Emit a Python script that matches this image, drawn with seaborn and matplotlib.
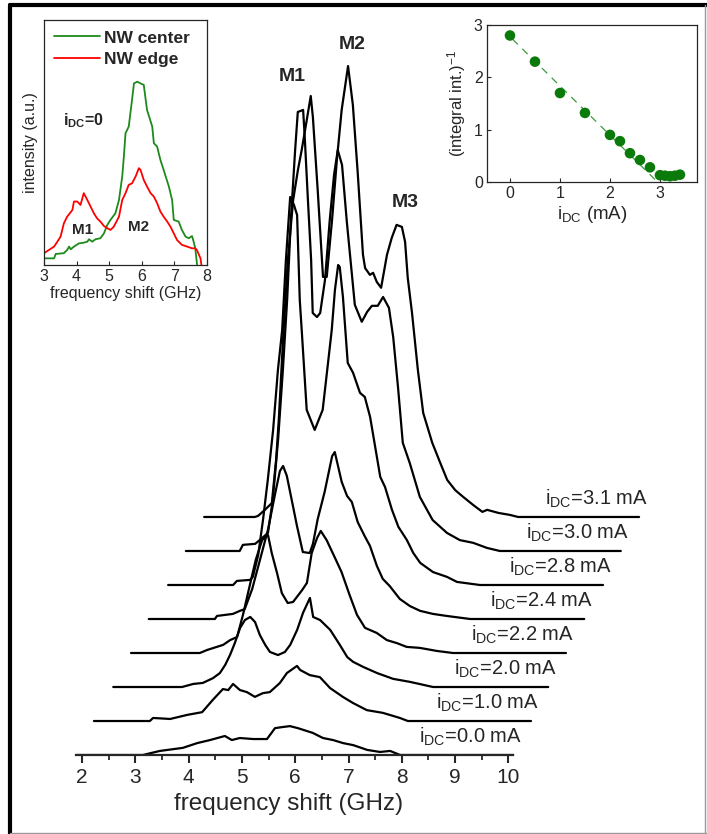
import numpy as np
import pandas as pd
import matplotlib
matplotlib.use("Agg")
import matplotlib.pyplot as plt
import seaborn as sns
from matplotlib.lines import Line2D

# BLS spectra for each i_DC, each in its own frequency frame (GHz), intensity in a.u.
currents = ["0.0", "1.0", "2.0", "2.2", "2.4", "2.8", "3.0", "3.1"]

f_00 = [1.89, 3.14, 3.46, 3.89, 4.16, 4.40, 4.68, 4.81, 4.96, 5.21, 5.47, 5.62, 5.75,
        5.90, 6.05, 6.33, 6.52, 6.71, 6.90, 7.09, 7.35, 7.59, 7.78, 7.97, 10.09]
I_00 = [0, 0, 0.12, 0.21, 0.35, 0.44, 0.56, 0.44, 0.50, 0.47, 0.47, 0.79, 0.82,
        0.85, 0.79, 0.65, 0.50, 0.44, 0.35, 0.29, 0.15, 0.09, 0.12, 0, 0]

f_10 = [1.88, 2.93, 2.99, 3.31, 3.63, 3.91, 4.11, 4.30, 4.40, 4.49, 4.62, 4.75, 4.90, 5.05,
        5.18, 5.37, 5.50, 5.69, 5.75, 5.93, 6.12, 6.31, 6.55, 6.74, 7.00, 7.30, 7.62, 7.77, 10.08]
I_10 = [0, 0, 0.09, 0.06, 0.18, 0.26, 0.62, 0.94, 0.91, 1.09, 0.91, 0.85, 0.71, 0.82,
        0.85, 1.12, 1.41, 1.62, 1.50, 1.35, 1.29, 0.97, 0.71, 0.53, 0.32, 0.24, 0.09, 0, 0]

f_20 = [1.90, 3.19, 3.40, 3.58, 3.77, 3.90, 4.00, 4.09, 4.18, 4.28, 4.37, 4.47, 4.56, 4.65,
        4.75, 4.84, 4.99, 5.12, 5.22, 5.35, 5.46, 5.59, 5.65, 5.78, 5.97, 6.15, 6.29, 6.40,
        6.59, 6.85, 7.15, 7.47, 7.90, 10.06]
I_20 = [0, 0, 0.09, 0.12, 0.26, 0.41, 0.65, 0.94, 1.29, 1.74, 1.97, 2.06, 1.91, 1.53,
        1.24, 1.03, 0.94, 1.03, 1.24, 1.68, 2.18, 2.62, 2.06, 1.97, 1.68, 1.24, 0.88, 0.74,
        0.59, 0.41, 0.24, 0.15, 0, 0]

f_22 = [1.89, 3.18, 3.32, 3.50, 3.62, 3.75, 3.88, 3.99, 4.12, 4.23, 4.35, 4.46, 4.53, 4.63,
        4.72, 4.83, 4.93, 5.10, 5.19, 5.28, 5.38, 5.45, 5.56, 5.71, 5.84, 5.99, 6.13, 6.28,
        6.50, 6.69, 6.88, 7.06, 7.31, 7.63, 7.93, 10.05]
I_22 = [0, 0, 0.09, 0.18, 0.24, 0.38, 0.47, 1.12, 2.00, 2.74, 3.32, 3.47, 2.94, 2.35,
        1.76, 1.47, 1.50, 1.85, 2.06, 2.94, 3.38, 3.59, 3.32, 2.82, 2.38, 1.71, 1.12, 0.74,
        0.59, 0.38, 0.29, 0.18, 0.15, 0.06, 0, 0]

f_24 = [1.88, 3.12, 3.16, 3.46, 3.59, 3.68, 3.82, 3.97, 4.12, 4.25, 4.34, 4.40, 4.47, 4.57,
        4.66, 4.77, 4.90, 4.96, 5.05, 5.18, 5.32, 5.37, 5.50, 5.60, 5.69, 5.80, 5.93, 6.03,
        6.16, 6.27, 6.40, 6.59, 6.78, 6.97, 7.21, 7.47, 7.91, 10.05]
I_24 = [0, 0, 0.09, 0.15, 0.24, 0.29, 0.88, 1.76, 2.65, 3.68, 4.35, 4.50, 4.21, 3.44,
        2.74, 1.97, 1.94, 2.21, 2.94, 3.74, 4.79, 4.91, 4.03, 3.62, 3.44, 2.85, 2.44, 2.15,
        1.56, 1.18, 0.97, 0.59, 0.38, 0.24, 0.15, 0.09, 0, 0]

f_28 = [1.90, 3.12, 3.19, 3.44, 3.49, 3.59, 3.68, 3.77, 3.87, 3.96, 4.04, 4.11, 4.19, 4.26,
        4.32, 4.37, 4.41, 4.50, 4.65, 4.80, 4.90, 4.97, 5.03, 5.09, 5.12, 5.18, 5.27, 5.37,
        5.50, 5.59, 5.69, 5.88, 5.97, 6.10, 6.22, 6.38, 6.50, 6.63, 6.87, 7.13, 7.32, 7.75, 10.06]
I_28 = [0, 0, 0.12, 0.15, 0.24, 0.88, 1.91, 3.09, 4.56, 6.32, 7.50, 9.56, 11.41, 11.18,
        10.88, 8.38, 7.41, 5.15, 4.56, 5.15, 6.53, 7.50, 8.68, 9.41, 9.35, 8.47, 6.53, 6.24,
        5.65, 5.53, 4.94, 3.18, 2.88, 2.21, 1.71, 1.32, 0.94, 0.65, 0.38, 0.24, 0.09, 0, 0]

f_30 = [1.89, 2.90, 2.96, 3.19, 3.32, 3.43, 3.52, 3.62, 3.71, 3.79, 3.86, 3.94, 3.99, 4.09,
        4.12, 4.18, 4.24, 4.27, 4.35, 4.41, 4.50, 4.59, 4.67, 4.74, 4.82, 4.91, 5.06, 5.19,
        5.29, 5.38, 5.49, 5.59, 5.70, 5.78, 5.87, 5.96, 6.09, 6.28, 6.52, 6.79, 7.03, 7.28,
        7.54, 7.78, 10.05]
I_30 = [0, 0, 0.18, 0.21, 0.38, 0.53, 1.50, 3.26, 5.32, 7.38, 9.74, 11.79, 12.91, 12.97,
        12.18, 10.32, 8.56, 7.00, 6.88, 7.00, 7.97, 9.74, 11.06, 11.79, 11.35, 9.68, 7.24, 6.74,
        7.03, 7.21, 7.21, 7.47, 7.15, 6.29, 4.82, 3.18, 2.59, 1.59, 0.91, 0.53, 0.32, 0.24,
        0.09, 0, 0]

f_31 = [1.89, 2.84, 2.90, 3.03, 3.16, 3.24, 3.29, 3.37, 3.46, 3.56, 3.65, 3.72, 3.80, 3.89,
        3.93, 4.02, 4.12, 4.19, 4.29, 4.38, 4.47, 4.59, 4.68, 4.77, 4.87, 4.91, 5.00, 5.06,
        5.13, 5.21, 5.32, 5.41, 5.50, 5.60, 5.66, 5.71, 5.79, 5.90, 6.00, 6.17, 6.32, 6.45,
        6.60, 6.75, 6.94, 7.11, 7.20, 7.41, 7.63, 7.78, 10.05]
I_31 = [0, 0, 0.03, 0.21, 0.41, 1.68, 2.85, 5.21, 7.56, 9.32, 10.21, 10.79, 11.53, 12.38,
        11.76, 9.62, 7.06, 7.06, 8.74, 10.50, 11.97, 13.26, 12.12, 10.15, 7.71, 7.32, 7.12, 7.18,
        6.91, 6.74, 7.71, 8.21, 8.59, 8.53, 8.09, 7.03, 6.00, 4.32, 3.06, 2.18, 1.59, 1.09,
        0.79, 0.59, 0.35, 0.15, 0.21, 0.12, 0.06, 0, 0]

freqs = [f_00, f_10, f_20, f_22, f_24, f_28, f_30, f_31]
ints = [I_00, I_10, I_20, I_22, I_24, I_28, I_30, I_31]

# inset: i_DC = 0 spectra at NW center / edge
fc = [3.00, 3.31, 3.36, 3.61, 3.71, 3.77, 3.82, 3.92, 4.07, 4.22, 4.33, 4.38, 4.48, 4.58,
      4.73, 4.84, 4.94, 5.04, 5.19, 5.30, 5.40, 5.45, 5.50, 5.60, 5.70, 5.76, 5.86, 5.96,
      6.06, 6.16, 6.32, 6.37, 6.47, 6.57, 6.67, 6.83, 6.93, 6.98, 7.13, 7.23, 7.34, 7.44,
      7.54, 7.59, 7.64, 7.72]
Ic = [2.7, 2.7, 4.5, 4.8, 6.1, 7.5, 6.4, 7.5, 8.8, 9.1, 9.5, 10.5, 9.5, 10.5,
      10.9, 12.9, 16.3, 18.4, 21.1, 26.5, 36.1, 44.2, 53.7, 56.5, 67.3, 74.1, 74.8, 74.1,
      73.5, 63.3, 56.5, 49.7, 48.3, 42.9, 38.8, 32.0, 26.5, 18.4, 17.7, 14.3, 11.6, 10.9,
      11.8, 9.5, 6.8, -3]
fe = [3.00, 3.15, 3.31, 3.41, 3.51, 3.61, 3.71, 3.87, 3.92, 4.02, 4.12, 4.22, 4.33, 4.43,
      4.53, 4.63, 4.73, 4.84, 4.94, 5.04, 5.14, 5.30, 5.40, 5.50, 5.60, 5.70, 5.81, 5.91,
      5.96, 6.06, 6.16, 6.27, 6.37, 6.47, 6.57, 6.67, 6.78, 6.88, 6.98, 7.08, 7.23, 7.39,
      7.54, 7.64, 7.69, 7.80, 7.86]
Ie = [4.8, 6.1, 7.5, 9.5, 11.6, 17.0, 19.7, 22.4, 25.9, 25.9, 24.5, 29.3, 26.5, 23.8,
      21.1, 19.0, 17.7, 15.9, 15.0, 14.3, 15.6, 19.7, 26.5, 29.3, 32.7, 33.3, 36.1, 39.5,
      38.8, 34.7, 32.0, 29.3, 27.9, 25.2, 21.8, 19.7, 17.7, 15.6, 12.9, 10.2, 8.2, 7.5,
      6.8, 6.8, 6.1, 2.7, -3]

# inset: inverse integral intensity vs i_DC
idc = [0.0, 0.5, 1.0, 1.5, 2.0, 2.2, 2.4, 2.6, 2.8, 3.0, 3.1, 3.2, 3.3, 3.4]
inv_int = [2.80, 2.30, 1.70, 1.32, 0.90, 0.78, 0.55, 0.42, 0.28, 0.13, 0.12, 0.11, 0.12, 0.14]
fit_x = [0.05, 2.95]
fit_y = [2.73, 0.0]

dx, dy = 0.343, 1.0   # waterfall shift per trace

sns.set_style("ticks")
plt.rcParams["font.family"] = ["Liberation Sans", "DejaVu Sans"]
plt.rcParams["mathtext.default"] = "regular"

fig = plt.figure(figsize=(7.07, 8.34), dpi=100)

# main waterfall
ax = fig.add_axes([0.0849, 0.0947, 0.877, 0.8693])
for k, (f, I) in enumerate(zip(freqs, ints)):
    sns.lineplot(x=np.array(f) + k * dx, y=np.array(I) + k * dy, ax=ax, color="black",
                 lw=1.6, estimator=None, sort=False)
    ax.text(f[-1] + k * dx + 0.16, k * dy + 0.36, "i$_{DC}$=" + currents[k] + " mA",
            ha="right", va="baseline", fontsize=14.5)

ax.text(5.94, 19.94, "M1", fontsize=14, fontweight="bold", ha="center", va="center")
ax.text(7.07, 20.88, "M2", fontsize=14, fontweight="bold", ha="center", va="center")
ax.text(8.06, 16.24, "M3", fontsize=14, fontweight="bold", ha="center", va="center")

ax.set_xlim(1.587, 13.22)
ax.set_ylim(0, 21.32)
for s in ["left", "right", "top"]:
    ax.spines[s].set_visible(False)
ax.spines["bottom"].set_bounds(1.89, 10.09)
ax.spines["bottom"].set_linewidth(1.6)
ax.set_yticks([])
ax.set_xticks(range(2, 11))
ax.set_xticks(np.arange(2.5, 10, 1.0), minor=True)
ax.tick_params(axis="x", which="major", length=6, width=1.5, labelsize=15, direction="out", pad=3)
ax.tick_params(axis="x", which="minor", length=3.5, width=1.3, direction="out")
ax.set_xlabel("frequency shift (GHz)", fontsize=17.5)
ax.xaxis.set_label_coords(0.368, -0.052)
ax.patch.set_alpha(0)

# left inset
ax1 = fig.add_axes([0.0622, 0.6823, 0.2306, 0.2938])
sns.lineplot(x=fc, y=Ic, ax=ax1, color="#1d8a1d", lw=1.3, estimator=None, sort=False,
             label="NW center")
sns.lineplot(x=fe, y=Ie, ax=ax1, color="#ff0000", lw=1.3, estimator=None, sort=False,
             label="NW edge")
ax1.set_xlim(3, 8)
ax1.set_ylim(0, 100)
ax1.set_yticks([])
ax1.set_xticks(range(3, 9))
ax1.tick_params(axis="x", direction="in", length=3, labelsize=11.5, pad=3)
ax1.set_xlabel("frequency shift (GHz)", fontsize=11.5, labelpad=1)
ax1.set_ylabel("intensity (a.u.)", fontsize=11.5, labelpad=4)
ax1.legend(loc="upper left", frameon=False, prop={"weight": "bold", "size": 12.5},
           handlelength=2.6, handletextpad=0.25, borderaxespad=0.2, labelspacing=0.35)
ax1.text(3.58, 59, "i$_{DC}$=0", fontsize=11.5, fontweight="bold", va="center")
ax1.text(4.17, 14.3, "M1", fontsize=11, fontweight="bold", ha="center", va="center")
ax1.text(5.91, 15.5, "M2", fontsize=11, fontweight="bold", ha="center", va="center")
for s in ax1.spines.values():
    s.set_linewidth(0.9)

# right inset
ax2 = fig.add_axes([0.6888, 0.7818, 0.297, 0.1882])
sns.lineplot(x=fit_x, y=fit_y, ax=ax2, color="#3c9a3c", lw=0.9, linestyle=(0, (6, 5)))
sns.scatterplot(x=idc, y=inv_int, ax=ax2, color="#0a7a0a", s=58, edgecolor="none", zorder=3)
ax2.set_xlim(-0.46, 3.74)
ax2.set_ylim(0, 3)
ax2.set_xticks([0, 1, 2, 3])
ax2.set_yticks([0, 1, 2, 3])
ax2.tick_params(direction="in", length=3, labelsize=11.5, pad=3)
ax2.set_xlabel("i$_{DC}$ (mA)", fontsize=13.5, labelpad=2)
ax2.set_ylabel("(integral int.)$^{-1}$", fontsize=12, labelpad=4)
for s in ax2.spines.values():
    s.set_linewidth(0.9)

# figure frame
fig.add_artist(Line2D([0.0141, 1.0], [0.994, 0.994], transform=fig.transFigure, color="black", lw=3))
fig.add_artist(Line2D([0.0141, 0.0141], [0.0, 0.994], transform=fig.transFigure, color="black", lw=3))
fig.add_artist(Line2D([0.0141, 1.0], [0.0015, 0.0015], transform=fig.transFigure, color="#999999", lw=1))
fig.add_artist(Line2D([0.997, 0.997], [0.0, 0.994], transform=fig.transFigure, color="#999999", lw=1))

fig.savefig("out.png", dpi=100)
plt.close(fig)
